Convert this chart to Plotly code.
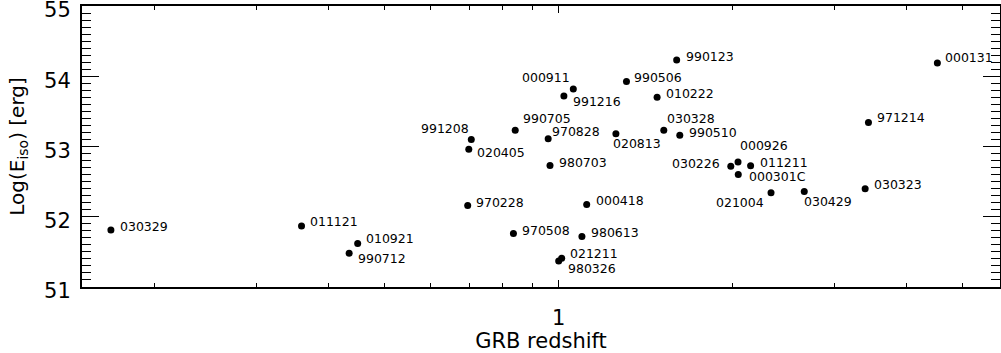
import math
import plotly.graph_objects as go

# ---- data ----
grb_names = ["030329", "011121", "010921", "990712", "970228", "991208", "020405",
             "990705", "970508", "970828", "980703", "000911", "991216", "021211",
             "980326", "000418", "980613", "990506", "020813", "010222", "990123",
             "030328", "990510", "030226", "000926", "000301C", "011211", "021004",
             "030429", "030323", "971214", "000131"]
redshift = [0.168, 0.359, 0.449, 0.434, 0.696, 0.706, 0.699,
            0.841, 0.835, 0.959, 0.966, 1.060, 1.021, 1.012,
            1.000, 1.118, 1.097, 1.310, 1.256, 1.480, 1.600,
            1.520, 1.620, 1.985, 2.043, 2.045, 2.148, 2.330,
            2.660, 3.390, 3.435, 4.520]
log_eiso = [51.81, 51.87, 51.62, 51.48, 52.16, 53.10, 52.96,
            53.23, 51.76, 53.11, 52.73, 53.82, 53.72, 51.41,
            51.37, 52.175, 51.72, 53.925, 53.18, 53.70, 54.23,
            53.23, 53.16, 52.72, 52.78, 52.60, 52.725, 52.34,
            52.36, 52.40, 53.34, 54.19]

y_tick_vals = [51, 52, 53, 54, 55]
x_tick_vals = [1]
x_tick_text = ["1"]
x_minor_vals = [0.2, 0.3, 0.4, 0.5, 0.6, 0.7, 0.8, 0.9, 2, 3, 4, 5]

# ---- label placement (style: pixel offsets from each dot) ----
# (anchor, dx, dy)  dy in screen pixels, positive = down
label_style = {
    "030329": ("left", 10, -4), "011121": ("left", 9, -4), "010921": ("left", 9, -5),
    "990712": ("left", 10, 5), "970228": ("left", 9, -3), "991208": ("right", -3, -11),
    "020405": ("left", 9, 3), "990705": ("left", 9, -12), "970508": ("left", 10, -3),
    "970828": ("left", 5, -7), "980703": ("left", 10, -3), "000911": ("right", -4, -11),
    "991216": ("left", 10, 6), "021211": ("left", 9, -5), "980326": ("left", 10, 7),
    "000418": ("left", 10, -4), "980613": ("left", 10, -4), "990506": ("left", 9, -4),
    "020813": ("left", -2, 10), "010222": ("left", 10, -4), "990123": ("left", 10, -4),
    "030328": ("left", 4, -12), "990510": ("left", 10, -3), "030226": ("right", -12, -3),
    "000926": ("left", 3, -16), "000301C": ("left", 12, 2), "011211": ("left", 10, -3),
    "021004": ("right", -8, 10), "030429": ("left", 1, 10), "030323": ("left", 10, -4),
    "971214": ("left", 10, -5), "000131": ("left", 9, -5),
}

FONT = "DejaVu Sans"

fig = go.Figure()
fig.add_trace(go.Scatter(
    x=redshift, y=log_eiso, mode="markers",
    marker=dict(size=7, color="black"),
    text=grb_names, hoverinfo="text", showlegend=False,
))

annotations = []
for name, zx, ey in zip(grb_names, redshift, log_eiso):
    anchor, dx, dy = label_style[name]
    annotations.append(dict(
        x=math.log10(zx), y=ey, xref="x", yref="y",
        text=name, showarrow=False, xanchor=anchor, yanchor="middle",
        xshift=dx - 2 if anchor == "left" else dx + 2, yshift=-dy,
        font=dict(family=FONT, size=12.5, color="black"),
        borderpad=0,
    ))

fig.update_layout(
    width=1001, height=353,
    margin=dict(l=82, r=1, t=6, b=66, autoexpand=False),
    paper_bgcolor="white", plot_bgcolor="white",
    annotations=annotations,
    font=dict(family=FONT, color="black"),
)

fig.update_xaxes(
    type="log", range=[-0.8247, 0.7635], automargin=False,
    tickmode="array", tickvals=x_tick_vals, ticktext=x_tick_text,
    ticks="inside", ticklen=7, tickwidth=1, tickcolor="black",
    minor=dict(tickmode="array", tickvals=x_minor_vals, ticks="inside",
               ticklen=4, tickwidth=1, tickcolor="black", showgrid=False),
    showline=True, linecolor="black", linewidth=2, mirror="allticks",
    showgrid=False, zeroline=False,
    tickfont=dict(family=FONT, size=21, color="black"),
    ticklabelstandoff=11,
    title=dict(text="GRB redshift", font=dict(family=FONT, size=21, color="black"),
               standoff=5),
)
fig.update_yaxes(
    range=[51, 55], automargin=False,
    tickmode="array", tickvals=y_tick_vals,
    ticks="inside", ticklen=17, tickwidth=1, tickcolor="black",
    minor=dict(dtick=0.1, ticks="inside", ticklen=9, tickwidth=1,
               tickcolor="black", showgrid=False),
    showline=True, linecolor="black", linewidth=2, mirror="allticks",
    showgrid=False, zeroline=False,
    tickfont=dict(family=FONT, size=21, color="black"),
    ticklabelstandoff=5, ticklabelshift=4, ticklabeloverflow="allow",
    title=dict(text="Log(E<sub>iso</sub>) [erg]",
               font=dict(family=FONT, size=20, color="black"), standoff=14),
)

fig.write_html("out.html")
